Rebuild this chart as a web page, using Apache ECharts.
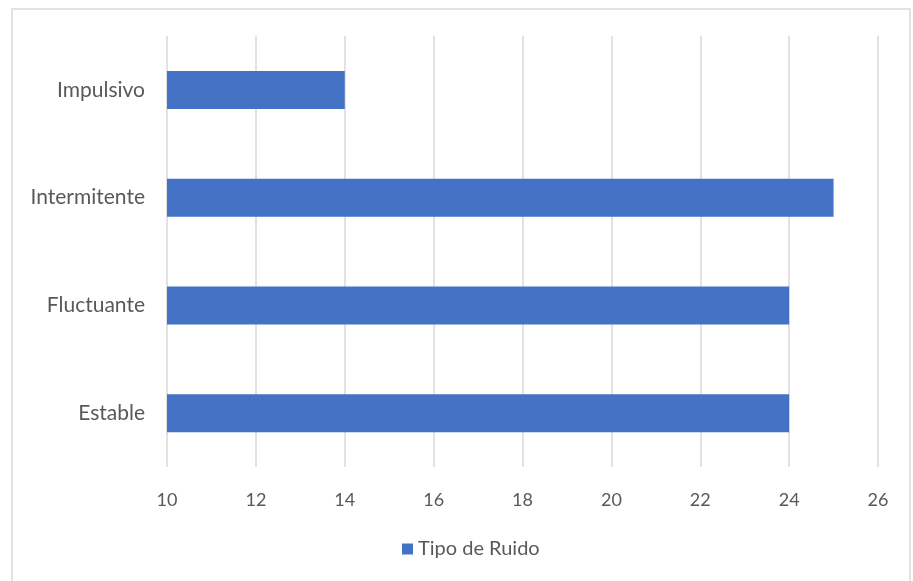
<!DOCTYPE html>
<html>
<head>
<meta charset="utf-8">
<script src="https://cdn.jsdelivr.net/npm/echarts@6/dist/echarts.min.js"></script>
<style>
  html, body { margin: 0; padding: 0; background: #fff; }
  #chart { width: 913px; height: 581px; }
</style>
</head>
<body>
<div id="chart"></div>
<script>
// Noise types, listed bottom to top
const categories = ['Estable', 'Fluctuante', 'Intermitente', 'Impulsivo'];
const values = [24, 24, 25, 14];
const seriesName = 'Tipo de Ruido';
const xMin = 10, xMax = 26, xStep = 2;

const chart = echarts.init(document.getElementById('chart'));
const font = 'Lato, "Open Sans", sans-serif';

chart.setOption({
  animation: false,
  backgroundColor: '#ffffff',
  textStyle: { fontFamily: font },
  graphic: [{
    type: 'rect',
    shape: { x: 12, y: 9, width: 898, height: 580 },
    style: { fill: 'none', stroke: '#d9d9d9', lineWidth: 1.5 },
    silent: true
  }],
  grid: { left: 167, right: 35, top: 36, bottom: 114 },
  legend: {
    bottom: 17,
    left: 397,
    itemWidth: 11,
    itemHeight: 11,
    icon: 'rect',
    itemGap: 5,
    textStyle: { color: '#595959', fontSize: 20, fontFamily: font },
    data: [seriesName]
  },
  xAxis: {
    type: 'value',
    min: xMin,
    max: xMax,
    interval: xStep,
    axisLine: { show: false },
    axisTick: { show: false },
    axisLabel: { color: '#595959', fontSize: 18, margin: 24, fontFamily: font },
    splitLine: { show: true, lineStyle: { color: '#d9d9d9', width: 1.5 } }
  },
  yAxis: {
    type: 'category',
    data: categories,
    axisLine: { show: false },
    axisTick: { show: false },
    axisLabel: { color: '#595959', fontSize: 21, margin: 22, fontFamily: font },
    splitLine: { show: false }
  },
  series: [{
    name: seriesName,
    type: 'bar',
    data: values,
    barWidth: 38,
    itemStyle: { color: '#4472C4' }
  }]
});
</script>
</body>
</html>
